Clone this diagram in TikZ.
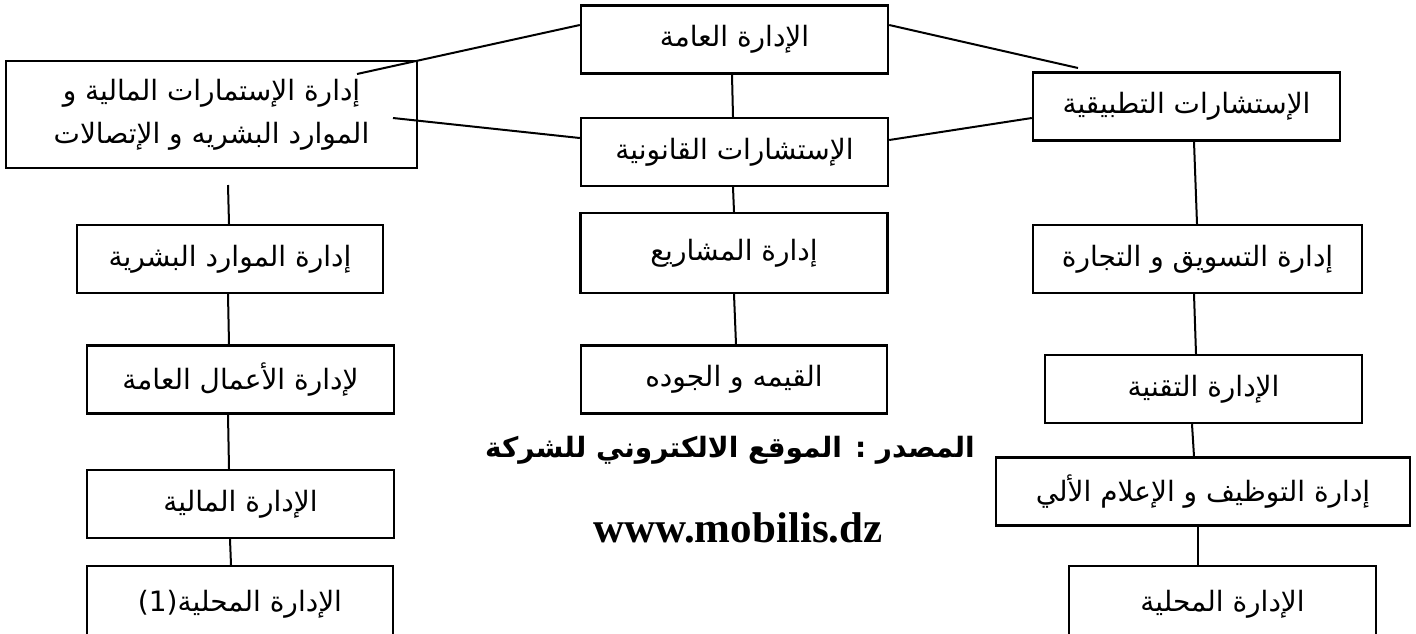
\documentclass[tikz,border=0pt]{standalone}
\usepackage{fontspec}
\TeXXeTstate=1
\newfontfamily\arabicfont[Script=Arabic]{DejaVu Sans}
\newfontfamily\arabicbold[Script=Arabic]{DejaVu Sans Bold}
\setmainfont{Liberation Serif}
\newcommand{\ar}[1]{\arabicfont\beginR #1\endR}
\begin{document}
\begin{tikzpicture}[x=1pt,y=-1pt,
  unit/.style={draw,line width=2.4pt,minimum width=#1,minimum height=68pt,
    inner sep=0pt,font=\fontsize{28}{34}\selectfont,text=black},
  unit/.default={307pt},
  link/.style={line width=2pt}]
\clip (0,0) rectangle (1416,633);
\fill[white] (0,0) rectangle (1416,633);

% centre column
\node[unit] (gen) at (734.5,39.5) {\ar{الإدارة العامة}};
\node[unit] (legal) at (734.5,152) {\ar{الإستشارات القانونية}};
\node[unit,minimum height=80pt] (proj) at (734,253) {\ar{إدارة المشاريع}};
\node[unit,minimum width=306pt] (qual) at (734,379.5) {\ar{القيمه و الجوده}};

% left column
\node[unit=411pt,minimum height=107pt,align=center] (fin2) at (211.5,114.5)
  {\ar{إدارة الإستمارات المالية و}\\[9pt]\ar{الموارد البشريه و الإتصالات}};
\node[unit=306pt] (hr) at (230,259) {\ar{إدارة الموارد البشرية}};
\node[unit] (biz) at (240.5,379.5) {\ar{لإدارة الأعمال العامة}};
\node[unit] (fin) at (240.5,504) {\ar{الإدارة المالية}};
\node[unit=306pt,minimum height=76pt] (loc1) at (240,604) {\ar{الإدارة المحلية(1)}};

% right column
\node[unit] (appl) at (1186.5,106.5) {\ar{الإستشارات التطبيقية}};
\node[unit=329pt] (mkt) at (1197.5,259) {\ar{إدارة التسويق و التجارة}};
\node[unit=317pt] (tech) at (1203.5,389) {\ar{الإدارة التقنية}};
\node[unit=414pt] (rec) at (1203,491.5) {\ar{إدارة التوظيف و الإعلام الألي}};
\node[unit,minimum height=76pt] (loc2) at (1222.5,604) {\ar{الإدارة المحلية}};

% source note
\node[font=\fontsize{28}{34}\selectfont] (src) at (730,450)
  {\arabicbold\beginR المصدر : الموقع الالكتروني للشركة\endR};
\node[font=\bfseries\fontsize{43}{50}\selectfont] (url) at (738,528) {www.mobilis.dz};

% free ends of the slanted links
\coordinate (fin2in) at (357,74);
\coordinate (fin2mid) at (393,118);
\coordinate (applTop) at (1078,68);

% slanted links
\draw[link] ([yshift=14.5pt]gen.west) -- (fin2in);
\draw[link] (fin2mid) -- ([yshift=14pt]legal.west);
\draw[link] ([yshift=14.5pt]gen.east) -- (applTop);
\draw[link] ([yshift=12pt]legal.east) -- ([yshift=-11.5pt]appl.west);

% vertical links, centre
\draw[link] ([xshift=-2.5pt]gen.south) -- ([xshift=-1.5pt]legal.north);
\draw[link] ([xshift=-1.5pt]legal.south) -- (proj.north);
\draw[link] (proj.south) -- ([xshift=2pt]qual.north);

% vertical links, left
\draw[link] (228,185) -- ([xshift=-1pt]hr.north);
\draw[link] ([xshift=-2pt]hr.south) -- ([xshift=-11.5pt]biz.north);
\draw[link] ([xshift=-12.5pt]biz.south) -- ([xshift=-11.5pt]fin.north);
\draw[link] ([xshift=-10.5pt]fin.south) -- ([xshift=-9pt]loc1.north);

% vertical links, right
\draw[link] ([xshift=7.5pt]appl.south) -- ([xshift=-0.5pt]mkt.north);
\draw[link] ([xshift=-3.5pt]mkt.south) -- ([xshift=-7.5pt]tech.north);
\draw[link] ([xshift=-11.5pt]tech.south) -- ([xshift=-9pt]rec.north);
\draw[link] ([xshift=-5pt]rec.south) -- ([xshift=-24.5pt]loc2.north);
\end{tikzpicture}
\end{document}
